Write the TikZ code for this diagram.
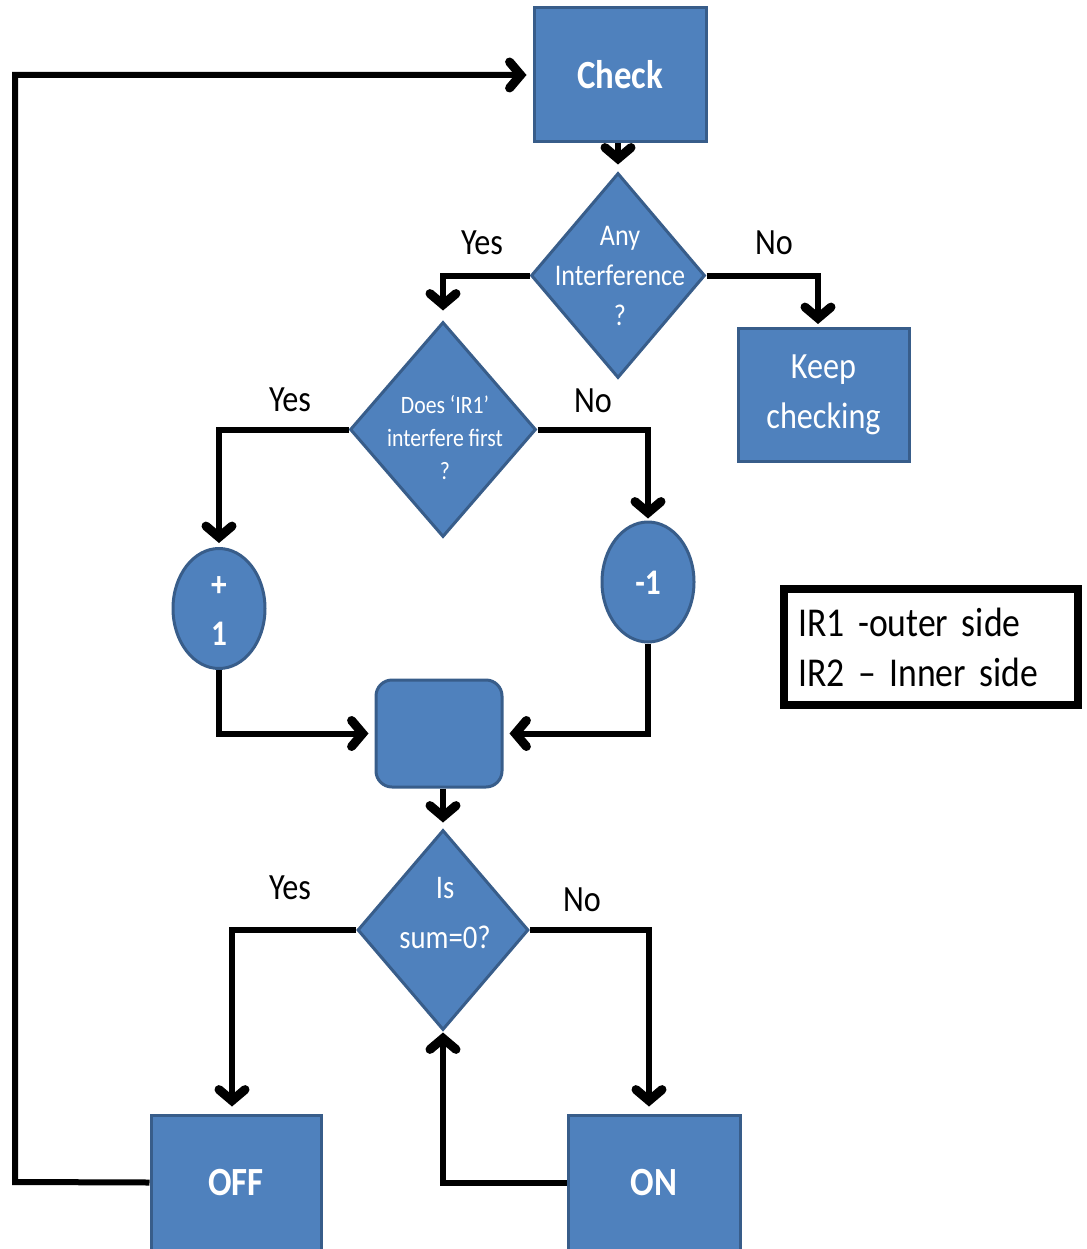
\documentclass[tikz,border=0pt]{standalone}
\usepackage{fontspec}
\setmainfont[FakeStretch=0.87]{Carlito}
\usetikzlibrary{shapes.geometric,arrows.meta}
\definecolor{boxfill}{HTML}{4F81BD}
\definecolor{boxline}{HTML}{385D8A}
\newcommand\myfs[2]{\fontsize{#1}{#2}\selectfont\spaceskip=0.19em\relax}
\tikzset{
  box/.style={draw=boxline, fill=boxfill, line width=3pt, text=white, inner sep=0pt},
  dia/.style={box, diamond, inner sep=0pt},
  oval/.style={box, ellipse},
  dtext/.style={text=white, align=center, inner sep=0pt},
  lbl/.style={font=\myfs{37}{44}, inner sep=0pt},
  conn/.style={line width=6pt, -{Straight Barb[length=11pt,width=26pt,line width=0pt 1.5 1,line cap=round]}}
}
\begin{document}
\begin{tikzpicture}[x=1pt,y=-1pt]
\useasboundingbox (0,0) rectangle (1086,1249);
% nodes
\node[box, minimum width=172pt, minimum height=134pt, font=\bfseries\myfs{40}{48}] (check) at (620,75) {Check};
\node[dia, minimum width=174pt, minimum height=205pt] (d1) at (618,275.5) {};
\node[dtext, font=\myfs{30}{40}] (d1t) at (620,276) {Any\\Interference\\?};
\node[box, minimum width=171pt, minimum height=133pt, align=center, font=\myfs{37}{50}] (keep) at (823.5,395) {Keep\\checking};
\node[dia, minimum width=186pt, minimum height=215pt] (d2) at (443,429.5) {};
\node[dtext, font=\myfs{25}{33}] (d2t) at (445,438) {Does ‘IR1’\\interfere first\\?};
\node[oval, minimum width=92pt, minimum height=120pt] (p1) at (219,608.5) {};
\node[dtext, font=\bfseries\myfs{36}{49}] (p1t) at (219,611) {+\\1};
\node[oval, minimum width=92pt, minimum height=120pt] (m1) at (648,582) {};
\node[dtext, font=\bfseries\myfs{36}{44}] (m1t) at (648,583) {-1};
\node[box, rounded corners=16pt, minimum width=126pt, minimum height=107pt] (sum) at (439,733.5) {};
\node[dia, minimum width=171pt, minimum height=200pt] (d3) at (443,930) {};
\node[dtext, font=\myfs{33}{50}] (d3t) at (445,913) {Is\\sum=0?};
\node[box, minimum width=170pt, minimum height=135pt, font=\bfseries\myfs{40}{48}] (off) at (236,1182.5) {OFF};
\node[box, minimum width=172pt, minimum height=135pt, font=\bfseries\myfs{40}{48}] (on) at (654,1182.5) {ON};
\node[draw=black, line width=8pt, minimum width=294pt, minimum height=116pt, inner xsep=14pt, text width=266pt, align=left, font=\myfs{41}{50}] (legend) at (931,647) {IR1 -outer side\\IR2 – Inner side};
\coordinate (lc) at (15,1182);
% labels
\node[lbl] (y1) at (482,243) {Yes};
\node[lbl] (n1) at (774,243) {No};
\node[lbl] (y2) at (290,400) {Yes};
\node[lbl] (n2) at (593,401) {No};
\node[lbl] (y3) at (290,888) {Yes};
\node[lbl] (n3) at (582,900) {No};
% connectors
\draw[conn, shorten >=7pt] (check.south -| d1.north) -- (d1.north);
\draw[conn, shorten >=10pt] (d1.west) -| (d2.north);
\draw[conn, shorten >=3pt] (d1.east) -| (keep.north -| 818,0);
\draw[conn, shorten >=4pt] (d2.west) -| (p1.north);
\draw[conn, shorten >=2pt] (d2.east) -| (m1.north);
\draw[conn, shorten >=6pt] (p1.south) |- (sum.west);
\draw[conn, shorten >=6pt] (m1.south) |- (sum.east);
\draw[conn, shorten >=6pt] (sum.south -| d3.north) -- (d3.north);
\draw[conn, shorten >=7pt] (d3.west) -| (off.north -| 232,0);
\draw[conn, shorten >=7pt] (d3.east) -| (on.north -| 649,0);
\draw[conn, shorten >=1pt] (on.west) -| (d3.south);
\draw[conn, shorten >=6pt] (off.west) -- (lc) |- (check.west);
\end{tikzpicture}
\end{document}
